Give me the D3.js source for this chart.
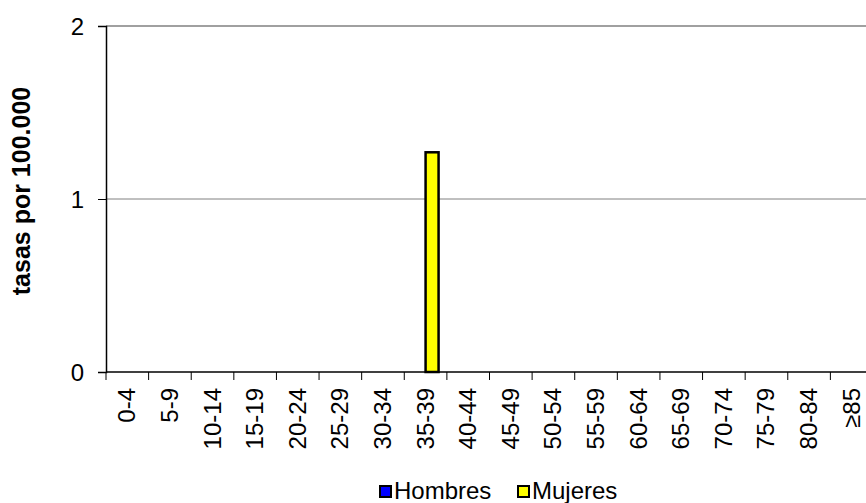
<!DOCTYPE html>
<html>
<head>
<meta charset="utf-8">
<script src="https://cdn.jsdelivr.net/npm/d3@7"></script>
<style>
  body { margin: 0; background: #fff; }
  svg { display: block; font-family: Arial, "Liberation Sans", sans-serif; }
</style>
</head>
<body>
<script>
const ageGroups = ["0-4", "5-9", "10-14", "15-19", "20-24", "25-29", "30-34", "35-39", "40-44",
    "45-49", "50-54", "55-59", "60-64", "65-69", "70-74", "75-79", "80-84", "≥85"]
const hombres = [0, 0, 0, 0, 0, 0, 0, 0, 0, 0, 0, 0, 0, 0, 0, 0, 0, 0]
const mujeres = [0, 0, 0, 0, 0, 0, 0, 1.27, 0, 0, 0, 0, 0, 0, 0, 0, 0, 0]
const seriesNames = ["Hombres", "Mujeres"]
const seriesColors = ["#0000ff", "#ffff00"]
const yTicks = [0, 1, 2]

window.onload = function () {

    const width = 866, height = 503
    const plot = {left: 106, right: 873, top: 26, bottom: 372}

    const svg = d3.select('body').append('svg')
        .attr('width', width)
        .attr('height', height)

    const x = d3.scaleBand()
        .domain(ageGroups)
        .range([plot.left, plot.right])
        .paddingInner(0).paddingOuter(0)

    const xSub = d3.scaleBand()
        .domain(seriesNames)
        .range([0, x.bandwidth()])
        .paddingInner(0).paddingOuter(0.64)

    const y = d3.scaleLinear()
        .domain([0, 2])
        .range([plot.bottom, plot.top])

    // gridlines
    svg.append('g')
        .selectAll('line')
        .data(yTicks.filter(d => d > 0))
        .join('line')
        .attr('x1', plot.left).attr('x2', plot.right)
        .attr('y1', d => y(d)).attr('y2', d => y(d))
        .attr('stroke', d => d === 2 ? '#a0a0a0' : '#808080')
        .attr('stroke-width', d => d === 2 ? 2 : 1)

    // bars
    const data = ageGroups.map((g, i) => ({group: g, values: [hombres[i], mujeres[i]]}))
    svg.append('g')
        .selectAll('g')
        .data(data)
        .join('g')
        .attr('transform', d => 'translate(' + x(d.group) + ',0)')
        .selectAll('rect')
        .data(d => d.values.map((v, i) => ({name: seriesNames[i], value: v, color: seriesColors[i]})))
        .join('rect')
        .filter(d => d.value > 0)
        .attr('x', d => xSub(d.name))
        .attr('width', xSub.bandwidth())
        .attr('y', d => y(d.value))
        .attr('height', d => y(0) - y(d.value))
        .attr('fill', d => d.color)
        .attr('stroke', '#000')
        .attr('stroke-width', 2.5)

    // y axis
    const yAxis = svg.append('g')
        .attr('transform', 'translate(' + plot.left + ',0)')
        .call(d3.axisLeft(y).tickValues(yTicks).tickFormat(d3.format('d')).tickSize(8).tickPadding(14))
    yAxis.select('.domain').attr('stroke', '#000').attr('stroke-width', 1.5)
    yAxis.selectAll('.tick line').attr('stroke', '#000')
    yAxis.selectAll('text').style('font-size', '24px').attr('fill', '#000').attr('dy', '0.36em')

    // x axis
    const xAxis = svg.append('g')
        .attr('transform', 'translate(0,' + plot.bottom + ')')
    xAxis.append('line')
        .attr('x1', plot.left).attr('x2', plot.right)
        .attr('stroke', '#000').attr('stroke-width', 1.5)
    xAxis.selectAll('line.tk')
        .data(ageGroups)
        .join('line')
        .attr('class', 'tk')
        .attr('x1', d => x(d)).attr('x2', d => x(d))
        .attr('y1', 0).attr('y2', 8)
        .attr('stroke', '#000')
    xAxis.selectAll('text')
        .data(ageGroups)
        .join('text')
        .attr('transform', d => 'translate(' + (x(d) + x.bandwidth() / 2 + 8) + ',16) rotate(-90)')
        .attr('text-anchor', 'end')
        .style('font-size', '24px')
        .text(d => d)

    // y title
    svg.append('text')
        .attr('transform', 'translate(30,191) rotate(-90)')
        .attr('text-anchor', 'middle')
        .style('font-size', '25px')
        .style('font-weight', 'bold')
        .text('tasas por 100.000')

    // legend
    const legendX = [380, 518]
    const legend = svg.append('g')
        .selectAll('g')
        .data(seriesNames)
        .join('g')
        .attr('transform', (d, i) => 'translate(' + legendX[i] + ',486)')
    legend.append('rect')
        .attr('width', 11).attr('height', 11)
        .attr('fill', (d, i) => seriesColors[i])
        .attr('stroke', '#000').attr('stroke-width', 2)
    legend.append('text')
        .attr('x', 14).attr('y', 13)
        .style('font-size', '24px')
        .text(d => d)
}
</script>
</body>
</html>
